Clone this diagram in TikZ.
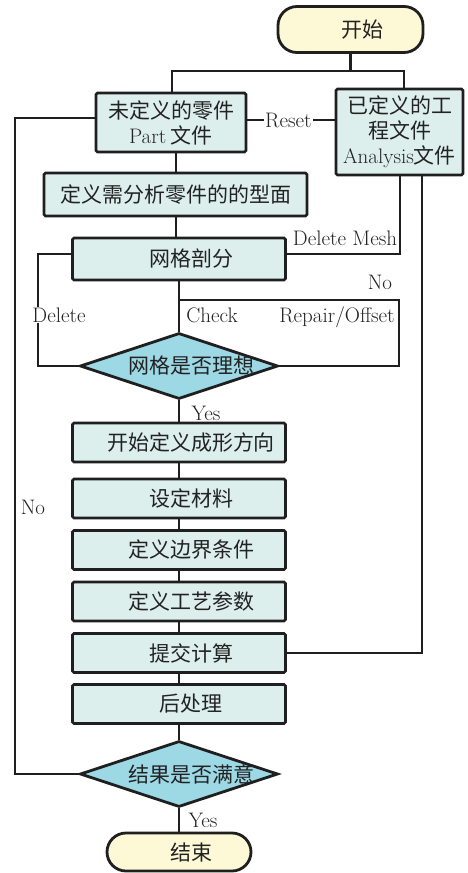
\documentclass[tikz,border=0pt]{standalone}
\usepackage{fontspec}
\newfontfamily\cjk{Noto Sans CJK SC}
\usetikzlibrary{shapes.geometric}
\definecolor{lc}{HTML}{1F1F1F}
\definecolor{tc}{HTML}{222222}
\definecolor{boxfill}{HTML}{DCEFEC}
\definecolor{diafill}{HTML}{9DD8E5}
\definecolor{termfill}{HTML}{FDF8D5}
\newcommand\cjkfs{\cjk\fontsize{21}{25}\selectfont}
\newcommand\latfs{\rmfamily\fontsize{21}{25}\selectfont}
\newcommand\lat[1]{{\latfs #1}}
\begin{document}
\begin{tikzpicture}[x=1pt,y=-1pt,
  box/.style={draw=lc, line width=2.8pt, fill=boxfill, rounded corners=1.5pt, inner sep=0pt, align=center, text=tc, font=\cjkfs},
  flowbox/.style={box, minimum width=213pt, minimum height=39pt},
  term/.style={draw=lc, line width=2.8pt, fill=termfill, rounded corners=19pt, inner sep=0pt, text=tc, font=\cjkfs},
  dia/.style={diamond, draw=lc, line width=2.8pt, fill=diafill, inner sep=0pt, minimum width=198pt, minimum height=66pt},
  diatext/.style={text=tc, font=\cjkfs, inner sep=0pt},
  lab/.style={text=tc, font=\latfs, inner sep=1pt},
  link/.style={draw=lc, line width=2.4pt},
]
\useasboundingbox (0,0) rectangle (467,873);

% nodes
\node[term, minimum width=145pt, minimum height=46pt] (start) at (350.5,29.5) {\hspace*{24pt}开始};
\node[box, minimum width=150pt, minimum height=59pt] (part) at (171,122.5) {未定义的零件\\\lat{Part} 文件};
\node[box, minimum width=127pt, minimum height=86pt] (anal) at (399.5,132) {已定义的工\\程文件\\\lat{Analysis}文件};
\node[box, minimum width=263pt, minimum height=43pt] (def) at (175.5,194.5) {定义需分析零件的的型面};
\node[box, minimum width=213pt, minimum height=42pt] (mesh) at (179,259) {\hspace*{24pt}网格剖分};
\node[dia] (d1) at (179,366) {};
\node[diatext] (d1t) at (191,366) {网格是否理想};
\node[flowbox] (A) at (179,442.5) {\hspace*{24pt}开始定义成形方向};
\node[flowbox] (B) at (179,498.5) {\hspace*{24pt}设定材料};
\node[flowbox] (C) at (179,550) {\hspace*{24pt}定义边界条件};
\node[flowbox] (D) at (179,601.5) {\hspace*{24pt}定义工艺参数};
\node[flowbox] (E) at (179,653) {\hspace*{24pt}提交计算};
\node[flowbox] (F) at (179,704) {\hspace*{24pt}后处理};
\node[dia] (d2) at (179,774) {};
\node[diatext] (d2t) at (191,774) {结果是否满意};
\node[term, minimum width=144pt, minimum height=38pt] (end) at (179,852) {\hspace*{24pt}结束};

% coordinates
\coordinate (jl) at (172,71);
\coordinate (jr) at (404,71);
\coordinate (rs) at (0,120);
\coordinate (lp) at (15,118);
\coordinate (pd) at (176,0);
\coordinate (dl) at (38,254);
\coordinate (dm) at (400,254);
\coordinate (sb) at (422,0);
\coordinate (br) at (399,300);

% connectors
\draw[link] (start.south) -- (start.south |- jl);
\draw[link] (part.north -| jl) -- (jl) -- (jr) -- (anal.north -| jr);
\draw[link] (part.east |- rs) -- node[lab, fill=white, pos=0.47] (lreset) {Reset} (anal.west |- rs);
\draw[link] (part.west |- lp) -- (lp) |- (d2.west);
\draw[link] (part.south -| pd) -- (def.north -| pd);
\draw[link] (def.south -| pd) -- (mesh.north -| pd);
\draw[link] (mesh.west |- dl) -- (dl) |- (d1.west);
\draw[link] (anal.south -| dm) -- (dm) -- (mesh.east |- dm);
\draw[link] (anal.south -| sb) |- (E.east);
\draw[link] (mesh.south) -- (d1.north);
\draw[link] (d1.north |- br) -- (br) |- (d1.east);
\draw[link] (d1.south) -- (A.north);
\draw[link] (A.south) -- (B.north);
\draw[link] (B.south) -- (C.north);
\draw[link] (C.south) -- (D.north);
\draw[link] (D.south) -- (E.north);
\draw[link] (E.south) -- (F.north);
\draw[link] (F.south) -- (d2.north);
\draw[link] (d2.south) -- (end.north);

% labels
\node[lab, fill=white] (ldel) at (59,315) {Delete};
\node[lab] (ldm) at (345,238) {Delete Mesh};
\node[lab] (lchk) at (212,315) {Check};
\node[lab] (lno1) at (380,282) {No};
\node[lab] (lrep) at (337,317) {Repair/Offset};
\node[lab] (lyes1) at (206,413) {Yes};
\node[lab] (lno2) at (33,507) {No};
\node[lab] (lyes2) at (203,820) {Yes};
\end{tikzpicture}
\end{document}
